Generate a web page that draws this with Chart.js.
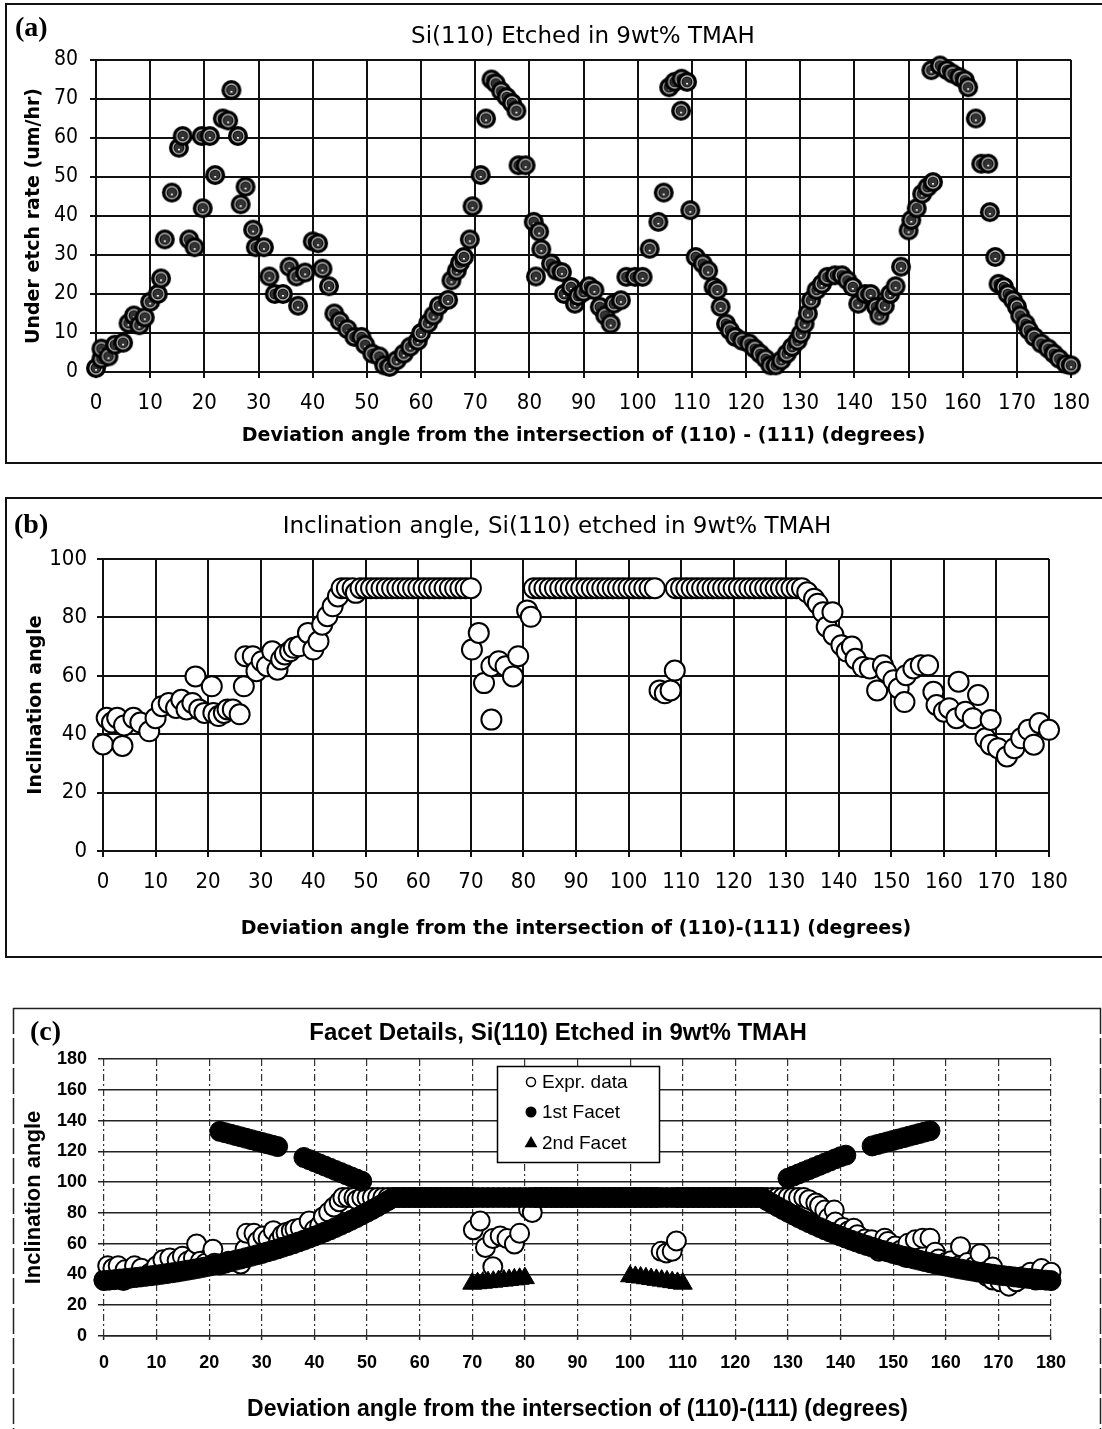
<!DOCTYPE html>
<html>
<head>
<meta charset="utf-8">
<title>Si(110) etched in 9wt% TMAH</title>
<script src="https://cdn.jsdelivr.net/npm/chart.js@4.4.1/dist/chart.umd.min.js"></script>
<style>
  html, body { margin: 0; padding: 0; background: #fff; }
  #page { position: relative; width: 1102px; height: 1429px; overflow: hidden; background: #fff; }
  canvas { position: absolute; left: 0; }
  .box { position: absolute; box-sizing: border-box; border: 2px solid #111; }
  .tag { position: absolute; font: bold 28px 'Liberation Serif', 'DejaVu Serif', serif; line-height: 1; white-space: nowrap; color: #000; }
  .ttl { position: absolute; line-height: 1; white-space: nowrap; transform: translateX(-50%); color: #000; }
</style>
</head>
<body>
<div id="page">
  <div class="box" style="left:5px; top:3px; width:1110px; height:461px;"></div>
  <div class="box" style="left:5px; top:497px; width:1110px; height:461px;"></div>
  <svg style="position:absolute; left:0; top:1000px;" width="1102" height="429">
    <line x1="13" y1="8.5" x2="1101" y2="8.5" stroke="#222" stroke-width="1.5"/>
    <line x1="13.5" y1="8" x2="13.5" y2="429" stroke="#222" stroke-width="1.5" stroke-dasharray="26 4"/>
    <line x1="1100.5" y1="8" x2="1100.5" y2="429" stroke="#222" stroke-width="1.5" stroke-dasharray="26 4"/>
  </svg>

  <canvas id="chartA" width="1102" height="470" style="top:0px;"></canvas>
  <canvas id="chartB" width="1102" height="480" style="top:480px;"></canvas>
  <canvas id="chartC" width="1102" height="429" style="top:1000px;"></canvas>

  <div class="tag" style="left:15px; top:13px;">(a)</div>
  <div class="tag" style="left:14px; top:510px;">(b)</div>
  <div class="tag" style="left:30px; top:1017px;">(c)</div>

  <div class="ttl" style="left:583px; top:22px; font:23px 'DejaVu Sans', Verdana, sans-serif;">Si(110) Etched in 9wt% TMAH</div>
  <div class="ttl" style="left:557px; top:512px; font:23px 'DejaVu Sans', Verdana, sans-serif;">Inclination angle, Si(110) etched in 9wt% TMAH</div>
  <div class="ttl" style="left:558px; top:1018px; font:bold 24px 'Liberation Sans', Arial, sans-serif;">Facet Details, Si(110) Etched in 9wt% TMAH</div>
</div>

<script>
// ---- tick values ----
const degreeTicks = [0, 10, 20, 30, 40, 50, 60, 70, 80, 90, 100, 110, 120, 130, 140, 150, 160, 170, 180];
const rateTicks = [0, 10, 20, 30, 40, 50, 60, 70, 80];
const inclTicks = [0, 20, 40, 60, 80, 100];
const facetTicks = [0, 20, 40, 60, 80, 100, 120, 140, 160, 180];

// ---- (a) under-etch rate vs deviation angle ----
const etchAngle = [
  0, 1, 1, 2.3, 3.5, 5, 6, 7, 8, 9,
  10, 11.4, 12, 12.7, 14, 15.3, 16, 17.2, 18.2, 19.5,
  19.7, 21, 22, 23.4, 24.4, 25, 26.2, 26.7, 27.6, 29,
  29.5, 31, 32, 33, 34.5, 35.7, 37, 37.3, 38.6, 40,
  41, 41.8, 43, 44, 45, 46.4, 47.7, 49, 49.7, 51,
  52.3, 53.2, 54.2, 55.5, 56.8, 58, 59.4, 60, 61.3, 62.3,
  63.3, 65, 65.6, 66.6, 67.2, 67.9, 69, 69.5, 71, 72,
  73, 73.8, 74.8, 75.8, 76.8, 77.6, 78, 79.3, 80.8, 81.2,
  81.8, 82.2, 84, 85, 86, 86.4, 87.7, 88.4, 89, 90,
  91, 92, 93, 94, 95, 95.6, 96.9, 97.9, 99.5, 100.9,
  102.2, 103.8, 104.8, 105.8, 106.8, 108.1, 109.1, 108, 109.7, 110.7,
  112, 113, 114, 114.7, 115.3, 116.3, 117, 118, 119.3, 120.6,
  121.6, 122.6, 123.6, 124.5, 125.5, 126.5, 127.5, 128.5, 129.5, 130.1,
  130.8, 131.4, 132, 133, 134, 135, 136.4, 137.7, 138.7, 139.7,
  140.7, 142, 143, 144, 144.6, 145.6, 146.6, 147.6, 148.6, 150,
  150.5, 151.5, 152.5, 153.5, 154.5, 154.2, 155.8, 157.1, 158.1, 159.4,
  160.4, 161, 162.4, 163.4, 164.7, 165, 166, 166.6, 167.6, 168.3,
  169.3, 170, 170.6, 171.6, 172.2, 173.2, 174.5, 175.8, 176.8, 177.8,
  179.1, 180
];
const etchRate = [
  1, 3.4, 6, 4, 7, 7.5, 12.5, 14.5, 12, 14,
  18, 20, 24, 34, 46, 57.5, 60.5, 34, 32, 60.5,
  42, 60.5, 50.5, 65, 64.5, 72.3, 60.5, 43, 47.5, 36.5,
  32, 32, 24.5, 20, 20, 27, 24.5, 17, 25.5, 33.5,
  33, 26.5, 22, 15, 13, 11, 9, 9, 7, 4.7,
  4, 1.7, 1.3, 3, 4.7, 6.5, 8, 10, 12.5, 14.5,
  17, 18.5, 23.5, 26, 28, 29.5, 34, 42.5, 50.5, 65,
  75, 74, 72, 70.5, 69, 67, 53, 53, 38.5, 24.5,
  36, 31.5, 27.8, 26, 25.6, 20, 21.8, 17.5, 19.5, 20.5,
  22, 21, 16.7, 14.5, 12.4, 17.5, 18.4, 24.4, 24.4, 24.4,
  31.6, 38.5, 46, 73, 74.4, 75.2, 74.4, 67, 41.5, 29.5,
  27.8, 26, 21.8, 21, 16.7, 12.4, 10.7, 9, 8, 7.3,
  6, 4.7, 3.4, 1.7, 1.7, 3, 4.7, 6.4, 8, 9.8,
  12.4, 15, 18.4, 21, 22.6, 24.4, 24.8, 24.8, 23.5, 21.8,
  17.5, 20, 20, 16.7, 14.5, 17, 20, 22, 27, 36.3,
  39, 42, 45.7, 47.4, 48.7, 77.4, 78.6, 77.4, 76.5, 75.6,
  74.8, 73, 65, 53.4, 53.4, 41, 29.5, 22.6, 21.8, 20,
  18.4, 16.7, 14.5, 12.4, 10.7, 9, 7.3, 6, 4.7, 3.4,
  2, 1.7
];

// ---- (b) measured inclination angle (also the "Expr. data" series of (c)) ----
const inclAngle = [
  0, 0.7, 1.7, 2.7, 3.7, 4, 5.8, 7.1, 8.8, 10,
  11.2, 12.5, 13.9, 14.9, 15.9, 17, 17.6, 18.3, 19.3, 20.7,
  21, 22, 23, 23.7, 24.7, 26, 26.8, 27.1, 28.5, 29.2,
  30.2, 31.2, 32.2, 33.2, 33.9, 34.6, 35.6, 36.3, 37.3, 39,
  40, 41, 41.7, 42.7, 43.7, 44.7, 45.4, 46.4, 47.5, 48.1,
  49, 50, 51, 52, 53, 54, 55, 56, 57, 58,
  59, 60, 61, 62, 63, 64, 65, 66, 67, 68,
  69, 70, 70.2, 71.5, 72.5, 73.9, 73.9, 75.3, 76.6, 78,
  79, 80.7, 81.4, 82, 83, 84, 85, 86, 87, 88,
  89, 90, 91, 92, 93, 94, 95, 96, 97, 98,
  99, 100, 101, 102, 103, 104, 105, 105.9, 106.9, 108,
  108.8, 109, 110, 111, 112, 113, 114, 115, 116, 117,
  118, 119, 120, 121, 122, 123, 124, 125, 126, 127,
  128, 129, 130, 131, 132, 133, 134, 135.3, 136, 137,
  137.7, 138.8, 139, 140.5, 141.5, 142.5, 143.2, 144.6, 145.9, 147.3,
  148.4, 149, 150.4, 151.4, 152.5, 152.8, 154.2, 155.6, 157, 158,
  158.6, 160, 161, 162.4, 162.8, 164.1, 165.5, 166.5, 167.9, 168.9,
  168.9, 170.3, 172, 173.4, 174.7, 176.1, 177.1, 178.2, 180
];
const inclValue = [
  36.5, 45.6, 44, 45.6, 36, 43, 45.6, 44, 41, 45.5,
  49.6, 50.7, 49, 51.8, 48.5, 50.7, 59.8, 48.5, 47.3, 56.4,
  47.3, 46.2, 47.3, 48.5, 48.5, 46.8, 56.4, 66.7, 66.7, 61.6,
  65, 63.3, 68.4, 62.1, 65.6, 67.3, 68.4, 69.6, 70.1, 74.7,
  69, 71.8, 77.5, 80.4, 83.8, 87.2, 90, 90, 90, 88.4,
  90, 90, 90, 90, 90, 90, 90, 90, 90, 90,
  90, 90, 90, 90, 90, 90, 90, 90, 90, 90,
  90, 90, 69, 74.7, 57.5, 45, 63.3, 65, 63.3, 59.8,
  66.7, 82.4, 80.2, 90, 90, 90, 90, 90, 90, 90,
  90, 90, 90, 90, 90, 90, 90, 90, 90, 90,
  90, 90, 90, 90, 90, 90, 90, 55, 54, 55,
  61.8, 90, 90, 90, 90, 90, 90, 90, 90, 90,
  90, 90, 90, 90, 90, 90, 90, 90, 90, 90,
  90, 90, 90, 90, 90, 90, 88.6, 86.4, 84.7, 81.8,
  76.8, 81.8, 74, 70.5, 68.3, 70, 65.8, 63, 62.5, 55,
  63.6, 61.4, 58.5, 55.7, 51, 60.2, 62.5, 63.6, 63.6, 54.5,
  50, 47.7, 48.9, 45.5, 58, 47.7, 45.5, 53.4, 38.6, 44.9,
  36.4, 35.2, 32.4, 35.2, 38.6, 41.5, 36.4, 43.8, 41.5
];

// ---- (c) facet model: 1st facet main branch ----
const facet1Angle = [
  0, 1, 2, 3, 4, 5, 6, 7, 8, 9,
  10, 11, 12, 13, 14, 15, 16, 17, 18, 19,
  20, 21, 22, 23, 24, 25, 26, 27, 28, 29,
  30, 31, 32, 33, 34, 35, 36, 37, 38, 39,
  40, 41, 42, 43, 44, 45, 46, 47, 48, 49,
  50, 51, 52, 53, 54, 55, 56, 57, 58, 59,
  60, 61, 62, 63, 64, 65, 66, 67, 68, 69,
  70, 71, 72, 73, 74, 75, 76, 77, 78, 79,
  80, 81, 82, 83, 84, 85, 86, 87, 88, 89,
  90, 91, 92, 93, 94, 95, 96, 97, 98, 99,
  100, 101, 102, 103, 104, 105, 106, 107, 108, 109,
  110, 111, 112, 113, 114, 115, 116, 117, 118, 119,
  120, 121, 122, 123, 124, 125, 126, 127, 128, 129,
  130, 131, 132, 133, 134, 135, 136, 137, 138, 139,
  140, 141, 142, 143, 144, 145, 146, 147, 148, 149,
  150, 151, 152, 153, 154, 155, 156, 157, 158, 159,
  160, 161, 162, 163, 164, 165, 166, 167, 168, 169,
  170, 171, 172, 173, 174, 175, 176, 177, 178, 179,
  180
];
const facet1Incl = [
  36.0, 36.3, 36.6, 37.0, 37.3, 37.6, 38.0, 38.4, 38.8, 39.2,
  39.6, 40.1, 40.6, 41.1, 41.6, 42.2, 42.8, 43.4, 44.0, 44.7,
  45.4, 46.1, 46.8, 47.6, 48.4, 49.2, 50.0, 50.9, 51.8, 52.7,
  53.6, 54.6, 55.6, 56.6, 57.7, 58.8, 59.9, 61.1, 62.3, 63.6,
  64.9, 66.2, 67.6, 69.0, 70.5, 72.0, 73.6, 75.2, 76.9, 78.6,
  80.4, 82.2, 84.1, 86.0, 88.0, 90, 90, 90, 90, 90,
  90, 90, 90, 90, 90, 90, 90, 90, 90, 90,
  90, 90, 90, 90, 90, 90, 90, 90, 90, 90,
  90, 90, 90, 90, 90, 90, 90, 90, 90, 90,
  90, 90, 90, 90, 90, 90, 90, 90, 90, 90,
  90, 90, 90, 90, 90, 90, 90, 90, 90, 90,
  90, 90, 90, 90, 90, 90, 90, 90, 90, 90,
  90, 90, 90, 90, 90, 90, 88.0, 86.0, 84.1, 82.2,
  80.4, 78.6, 76.9, 75.2, 73.6, 72.0, 70.5, 69.0, 67.6, 66.2,
  64.9, 63.6, 62.3, 61.1, 59.9, 58.8, 57.7, 56.6, 55.6, 54.6,
  53.6, 52.7, 51.8, 50.9, 50.0, 49.2, 48.4, 47.6, 46.8, 46.1,
  45.4, 44.7, 44.0, 43.4, 42.8, 42.2, 41.6, 41.1, 40.6, 40.1,
  39.6, 39.2, 38.8, 38.4, 38.0, 37.6, 37.3, 37.0, 36.6, 36.3,
  36.0
];
// 1st facet, upper (obtuse) branches
const facet1UpperAngle = [
  22, 23, 24, 25, 26, 27, 28, 29, 30, 31, 32, 33,
  38, 39, 40, 41, 42, 43, 44, 45, 46, 47, 48, 49,
  130, 131, 132, 133, 134, 135, 136, 137, 138, 139, 140, 141,
  146, 147, 148, 149, 150, 151, 152, 153, 154, 155, 156, 157
];
const facet1UpperIncl = [
  133.0, 132.1, 131.2, 130.3, 129.4, 128.5, 127.6, 126.7, 125.8, 124.9, 124.0, 123.1,
  116.0, 114.6, 113.2, 111.8, 110.4, 109.0, 107.6, 106.2, 104.8, 103.4, 102.0, 100.6,
  102.5, 103.9, 105.3, 106.7, 108.1, 109.5, 110.9, 112.3, 113.7, 115.1, 116.5, 117.5,
  123.5, 124.4, 125.3, 126.2, 127.1, 128.0, 128.9, 129.8, 130.7, 131.6, 132.5, 133.4
];
// 2nd facet
const facet2Angle = [70, 71, 72, 73, 74, 75, 76, 77, 78, 79, 80,
                     100, 101, 102, 103, 104, 105, 106, 107, 108, 109, 110];
const facet2Incl = [34.0, 34.3, 34.6, 35.0, 35.3, 35.7, 36.0, 36.4, 36.8, 37.2, 37.6,
                    38.8, 38.4, 38.0, 37.5, 37.0, 36.5, 36.0, 35.5, 35.0, 34.5, 34.0];

const toPoints = (xs, ys) => xs.map((x, i) => ({ x: x, y: ys[i] }));

const NARROW = "'Liberation Sans Narrow', 'DejaVu Sans Condensed', 'Arial Narrow', sans-serif";
const WIDE = "'DejaVu Sans', Verdana, sans-serif";
const ARIAL = "'Liberation Sans', Arial, sans-serif";

// dark hatched-looking marker used for the etch-rate series
function etchMarker(r) {
  const s = Math.ceil(r * 2) + 2;
  const c = document.createElement('canvas');
  c.width = s; c.height = s;
  const g = c.getContext('2d');
  const m = s / 2;
  g.fillStyle = '#000';
  g.beginPath(); g.arc(m, m, r, 0, Math.PI * 2); g.fill();
  g.strokeStyle = '#b8b8b8'; g.lineWidth = 1.3;
  g.beginPath(); g.arc(m, m, r * 0.6, 0, Math.PI * 2); g.stroke();
  g.fillStyle = '#333';
  g.beginPath(); g.arc(m, m, r * 0.45, 0, Math.PI * 2); g.fill();
  g.fillStyle = '#fff';
  g.fillRect(m - 1, m + 1, 2, 1.5);
  return c;
}

function buildScales(p) {
  return {
    x: {
      type: 'linear', min: 0, max: 180,
      afterBuildTicks: s => { s.ticks = degreeTicks.map(v => ({ value: v })); },
      afterFit: s => { s.height = p.xHeight; },
      ticks: { autoSkip: false, maxRotation: 0, color: '#000', font: p.xTickFont, padding: p.xTickPad },
      grid: { color: p.vColor, lineWidth: p.vWidth, tickLength: p.xTickLen, tickColor: p.tickColor, tickWidth: p.tickWidth },
      border: { display: true, color: p.axisColor, width: p.axisWidth, dash: p.vDash },
      title: { display: true, text: p.xTitle, color: '#000', font: p.xTitleFont, padding: { top: 0, bottom: p.xTitlePad } }
    },
    y: {
      type: 'linear', min: 0, max: p.yMax,
      afterBuildTicks: s => { s.ticks = p.yTicks.map(v => ({ value: v })); },
      afterFit: s => { s.width = p.yWidth; },
      ticks: { autoSkip: false, color: '#000', font: p.yTickFont, padding: p.yTickPad },
      grid: { color: p.hColor, lineWidth: p.hWidth, tickLength: p.yTickLen, tickColor: p.tickColor, tickWidth: p.tickWidth },
      border: { display: p.yBorder, color: p.axisColor, width: p.axisWidth },
      title: { display: true, text: p.yTitle, color: '#000', font: p.yTitleFont, padding: { top: p.yTitlePad, bottom: 0 } }
    }
  };
}

const common = {
  responsive: false,
  maintainAspectRatio: false,
  devicePixelRatio: 1,
  animation: false,
  events: [],
  plugins: { legend: { display: false }, tooltip: { enabled: false }, title: { display: false } }
};

// (a)
new Chart(document.getElementById('chartA'), {
  type: 'scatter',
  data: {
    datasets: [{
      label: 'Under etch rate',
      data: toPoints(etchAngle, etchRate),
      pointStyle: etchMarker(10),
      pointRadius: 10,
      showLine: false,
      clip: false
    }]
  },
  options: Object.assign({}, common, {
    layout: { padding: { left: 8, top: 60, right: 19, bottom: 18 } },
    scales: buildScales({
      xHeight: 80, yWidth: 88, yMax: 80, yTicks: rateTicks,
      xTickFont: { family: NARROW, size: 22 }, yTickFont: { family: NARROW, size: 21 },
      xTickPad: 12, yTickPad: 12, xTickLen: 6, yTickLen: 6,
      vColor: '#111', vWidth: 2, hColor: '#111', hWidth: 2, vDash: [],
      tickColor: '#111', tickWidth: 2, axisColor: '#111', axisWidth: 2, yBorder: true,
      xTitle: 'Deviation angle from the intersection of (110) - (111) (degrees)',
      yTitle: 'Under etch rate (um/hr)',
      xTitleFont: { family: WIDE, size: 19, weight: 'bold' },
      yTitleFont: { family: WIDE, size: 19, weight: 'bold' },
      xTitlePad: 4.6, yTitlePad: 14.6
    })
  })
});

// (b)
new Chart(document.getElementById('chartB'), {
  type: 'scatter',
  data: {
    datasets: [{
      label: 'Inclination angle',
      data: toPoints(inclAngle, inclValue),
      pointStyle: 'circle',
      pointRadius: 10,
      pointBackgroundColor: '#fff',
      pointBorderColor: '#000',
      pointBorderWidth: 2,
      showLine: false,
      clip: false
    }]
  },
  options: Object.assign({}, common, {
    layout: { padding: { left: 8, top: 79, right: 53, bottom: 17 } },
    scales: buildScales({
      xHeight: 92, yWidth: 95, yMax: 100, yTicks: inclTicks,
      xTickFont: { family: NARROW, size: 22 }, yTickFont: { family: NARROW, size: 22 },
      xTickPad: 12, yTickPad: 10, xTickLen: 6, yTickLen: 6,
      vColor: '#111', vWidth: 2, hColor: '#111', hWidth: 2, vDash: [],
      tickColor: '#111', tickWidth: 2, axisColor: '#111', axisWidth: 2, yBorder: true,
      xTitle: 'Deviation angle from the intersection of (110)-(111) (degrees)',
      yTitle: 'Inclination angle',
      xTitleFont: { family: WIDE, size: 19, weight: 'bold' },
      yTitleFont: { family: WIDE, size: 19, weight: 'bold' },
      xTitlePad: 2.6, yTitlePad: 16.6
    })
  })
});

// legend box drawn inside the plot of (c)
const facetLegend = {
  id: 'facetLegend',
  afterDraw(chart, args, opts) {
    const ctx = chart.ctx;
    const L = opts.left, T = opts.top, W = opts.width, H = opts.height;
    ctx.save();
    ctx.fillStyle = '#fff';
    ctx.fillRect(L, T, W, H);
    ctx.strokeStyle = '#000';
    ctx.lineWidth = 1.5;
    ctx.strokeRect(L + 0.5, T + 0.5, W, H);
    ctx.font = opts.font;
    ctx.textBaseline = 'middle';
    ctx.textAlign = 'left';
    chart.data.datasets.forEach((ds, i) => {
      const cy = T + opts.rows[i];
      const cx = L + opts.symbolX;
      ctx.beginPath();
      if (ds.pointStyle === 'triangle') {
        const r = 7;
        ctx.moveTo(cx, cy - r);
        ctx.lineTo(cx + r * 0.92, cy + r * 0.6);
        ctx.lineTo(cx - r * 0.92, cy + r * 0.6);
        ctx.closePath();
        ctx.fillStyle = '#000';
        ctx.fill();
      } else if (ds.pointBackgroundColor === '#fff') {
        ctx.arc(cx, cy, 4.5, 0, Math.PI * 2);
        ctx.fillStyle = '#fff';
        ctx.fill();
        ctx.lineWidth = 1.5;
        ctx.stroke();
      } else {
        ctx.arc(cx, cy, 5.5, 0, Math.PI * 2);
        ctx.fillStyle = '#000';
        ctx.fill();
      }
      ctx.fillStyle = '#000';
      ctx.fillText(ds.label, L + opts.textX, cy + 1);
    });
    ctx.restore();
  }
};

// (c)
new Chart(document.getElementById('chartC'), {
  type: 'scatter',
  data: {
    datasets: [
      {
        label: 'Expr. data',
        data: toPoints(inclAngle, inclValue),
        order: 3,
        pointStyle: 'circle',
        pointRadius: 9.5,
        pointBackgroundColor: '#fff',
        pointBorderColor: '#000',
        pointBorderWidth: 2,
        showLine: false,
        clip: false
      },
      {
        label: '1st Facet',
        data: toPoints(facet1Angle, facet1Incl).concat(toPoints(facet1UpperAngle, facet1UpperIncl)),
        order: 2,
        pointStyle: 'circle',
        pointRadius: 10,
        pointBackgroundColor: '#000',
        pointBorderColor: '#000',
        pointBorderWidth: 1,
        showLine: false,
        clip: false
      },
      {
        label: '2nd Facet',
        data: toPoints(facet2Angle, facet2Incl),
        order: 1,
        pointStyle: 'triangle',
        pointRadius: 11,
        pointBackgroundColor: '#000',
        pointBorderColor: '#000',
        pointBorderWidth: 1,
        showLine: false,
        clip: false
      }
    ]
  },
  options: Object.assign({}, common, {
    layout: { padding: { left: 8, top: 59, right: 51, bottom: 3 } },
    plugins: {
      legend: { display: false }, tooltip: { enabled: false }, title: { display: false },
      facetLegend: { left: 497, top: 66, width: 162, height: 96, symbolX: 34, textX: 45,
                     rows: [16, 46, 77], font: "19px 'Liberation Sans', Arial, sans-serif" }
    },
    scales: buildScales({
      xHeight: 90, yWidth: 96, yMax: 180, yTicks: facetTicks,
      xTickFont: { family: ARIAL, size: 18, weight: 'bold' }, yTickFont: { family: ARIAL, size: 18, weight: 'bold' },
      xTickPad: 12.2, yTickPad: 11, xTickLen: 4, yTickLen: 6,
      vColor: '#333', vWidth: 1.2, hColor: '#222', hWidth: 1.5, vDash: [7, 3, 2, 3],
      tickColor: '#222', tickWidth: 1.5, axisColor: '#222', axisWidth: 1.5, yBorder: false,
      xTitle: 'Deviation angle from the intersection of (110)-(111) (degrees)',
      yTitle: 'Inclination angle',
      xTitleFont: { family: ARIAL, size: 23, weight: 'bold' },
      yTitleFont: { family: ARIAL, size: 22, weight: 'bold' },
      xTitlePad: 2.2, yTitlePad: 12.8
    })
  }),
  plugins: [facetLegend]
});
</script>
</body>
</html>
